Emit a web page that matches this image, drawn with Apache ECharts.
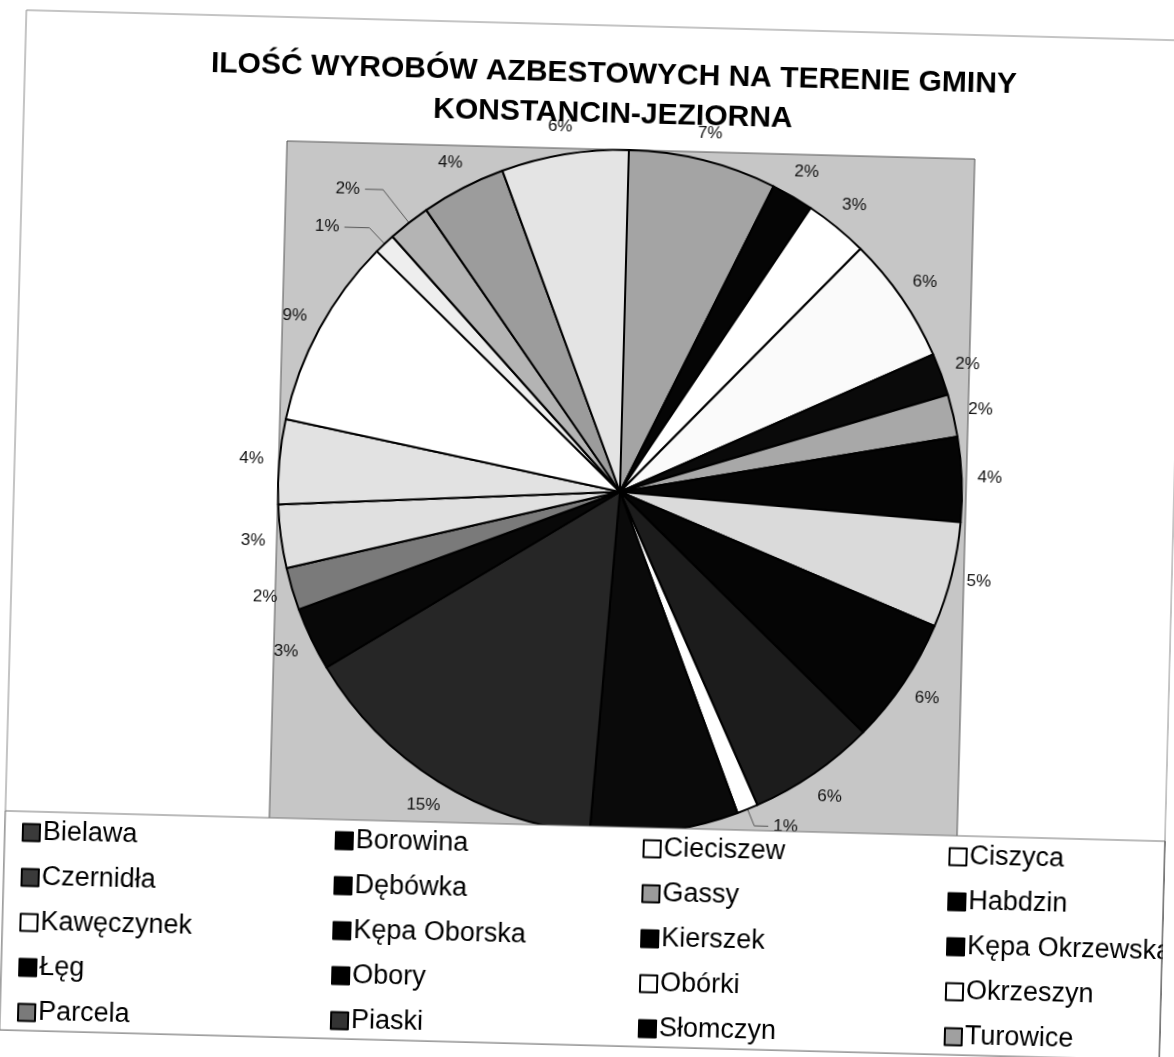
<!DOCTYPE html>
<html>
<head>
<meta charset="utf-8">
<title>Ilość wyrobów azbestowych</title>
<script src="https://cdn.jsdelivr.net/npm/echarts@6/dist/echarts.min.js"></script>
<style>
  html, body { margin: 0; padding: 0; background: #fff; overflow: hidden; }
  /* the source is a slightly skewed scan, so the whole chart is tilted a little */
  #chart { width: 1174px; height: 1057px; transform: rotate(1.5deg); }
</style>
</head>
<body>
<div id="chart"></div>
<script>
// slices clockwise from 12 o'clock; the last two have no visible legend entry in the source
const villages = ['Bielawa', 'Borowina', 'Cieciszew', 'Ciszyca', 'Czernidła', 'Dębówka', 'Gassy', 'Habdzin',
  'Kawęczynek', 'Kępa Oborska', 'Kierszek', 'Kępa Okrzewska', 'Łęg', 'Obory', 'Obórki', 'Okrzeszyn',
  'Parcela', 'Piaski', 'Słomczyn', 'Turowice', 'inne 1', 'inne 2'];
const shares = [7, 2, 3, 6, 2, 2, 4, 5, 6, 6, 1, 7, 15, 3, 2, 3, 4, 9, 1, 2, 4, 6];

// grey shades of the printed slices
const sliceColors = ['#a4a4a4', '#050505', '#ffffff', '#fafafa', '#0a0a0a', '#a8a8a8', '#050505', '#dadada',
  '#050505', '#1c1c1c', '#ffffff', '#0a0a0a', '#262626', '#080808', '#7a7a7a', '#e0e0e0',
  '#e2e2e2', '#ffffff', '#eeeeee', '#b4b4b4', '#9c9c9c', '#e4e4e4'];
// legend swatches as printed
const legendColors = ['#3a3a3a', '#000', '#fff', '#fff', '#3a3a3a', '#000', '#9a9a9a', '#000',
  '#fff', '#000', '#000', '#000', '#000', '#000', '#fff', '#fff',
  '#7a7a7a', '#333', '#000', '#a0a0a0'];

// small slices whose labels hang on a leader line
const leaders = { 10: [18, 14], 18: [22, 25], 19: [42, 18] };

const FONT = '"Liberation Sans", Arial, sans-serif';
const CX = 619, CY = 491, R = 342, LABEL_R = 370;

// mid angle of every slice (clockwise from the top), used to centre the labels like Excel does
const total = shares.reduce((a, b) => a + b, 0);
let acc = 0;
const midAngles = shares.map(v => {
  const a = (acc + v / 2) / total * Math.PI * 2;
  acc += v;
  return a;
});

const chart = echarts.init(document.getElementById('chart'));

const pieData = shares.map((v, i) => {
  const item = { name: villages[i], value: v, itemStyle: { color: sliceColors[i] } };
  if (leaders[i]) {
    item.labelLine = { show: true, length: leaders[i][0], length2: leaders[i][1] };
  }
  return item;
});

const colX = [30, 343, 651, 957];
const legends = colX.map((x, c) => ({
  orient: 'vertical',
  left: x,
  top: 833,
  padding: 0,
  itemWidth: 17,
  itemHeight: 17,
  itemGap: 17,
  icon: 'rect',
  selectedMode: false,
  itemStyle: { borderColor: '#000', borderWidth: 2 },
  textStyle: { fontSize: 27, fontFamily: FONT, color: '#000', lineHeight: 28, padding: [0, 0, 0, -2] },
  data: [0, 1, 2, 3, 4].map(r => {
    const k = r * 4 + c;
    return { name: villages[k], itemStyle: { color: legendColors[k], borderColor: '#000', borderWidth: 2 } };
  })
}));

const option = {
  backgroundColor: '#fff',
  animation: false,
  title: {
    text: 'ILOŚĆ WYROBÓW AZBESTOWYCH NA TERENIE GMINY\nKONSTANCIN-JEZIORNA',
    left: 602,
    top: 54,
    padding: 0,
    textAlign: 'center',
    textStyle: { fontSize: 30, fontWeight: 'bold', fontFamily: FONT, color: '#000', lineHeight: 40 }
  },
  legend: legends,
  graphic: [
    { type: 'rect', z: 0, shape: { x: 13, y: 25, width: 1160, height: 1020 },
      style: { fill: 'none', stroke: '#8a8a8a', lineWidth: 1 } },
    { type: 'rect', z: 1, shape: { x: 277, y: 149, width: 688, height: 700 },
      style: { fill: '#c6c6c6', stroke: '#555', lineWidth: 1 } },
    { type: 'rect', z: 3, shape: { x: 13, y: 826, width: 1160, height: 219 },
      style: { fill: '#fff', stroke: '#777', lineWidth: 1 } },
    // right border of the frame, drawn over the legend text like in the print
    { type: 'line', z: 5, shape: { x1: 1173, y1: 826, x2: 1173, y2: 1045 },
      style: { stroke: '#555', lineWidth: 1 } }
  ],
  series: [{
    type: 'pie',
    z: 2,
    center: [CX, CY],
    radius: R,
    startAngle: 90,
    clockwise: true,
    avoidLabelOverlap: false,
    emphasis: { disabled: true },
    itemStyle: { borderColor: '#000', borderWidth: 2 },
    label: {
      show: true,
      position: 'outside',
      formatter: p => Math.round(p.percent) + '%',
      fontSize: 17,
      fontFamily: FONT,
      color: '#111'
    },
    labelLine: { show: false, length: 18, length2: 2, lineStyle: { color: '#555', width: 1 } },
    labelLayout: params => {
      const i = params.dataIndex;
      if (leaders[i]) return {};
      const a = midAngles[i];
      return {
        x: CX + LABEL_R * Math.sin(a),
        y: CY - LABEL_R * Math.cos(a),
        align: 'center',
        verticalAlign: 'middle'
      };
    },
    data: pieData
  }]
};

chart.setOption(option);
</script>
</body>
</html>
